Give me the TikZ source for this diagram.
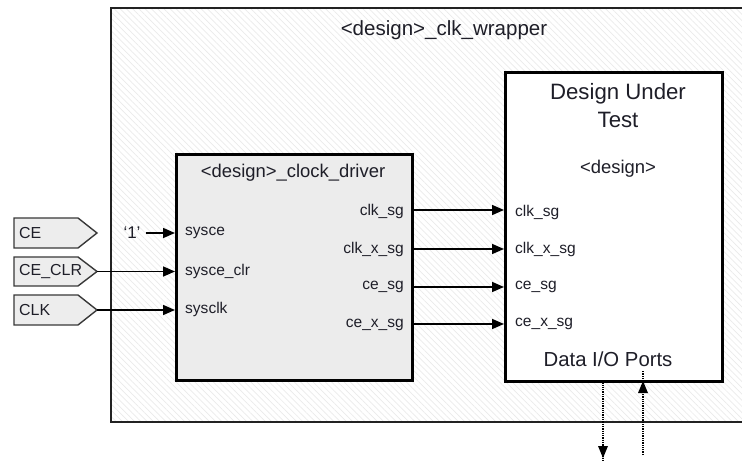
\documentclass[tikz,border=0pt]{standalone}
\usepackage{fontspec}
\setmainfont{Liberation Sans}
\usetikzlibrary{arrows.meta,patterns.meta}
\definecolor{txt}{HTML}{1E1E28}
\definecolor{boxgray}{HTML}{ECECEC}
\definecolor{pingray}{HTML}{EDEDED}
\definecolor{edge}{HTML}{222222}
\tikzset{
  x=1bp, y=-1bp,
  wrapbox/.style={fill=white,
    postaction={pattern={Lines[angle=-45,distance=4.4bp,line width=0.7bp]}, pattern color=black!8},
    postaction={draw=edge, line width=1.6bp},
    minimum width=660bp, minimum height=414bp, inner sep=0pt, anchor=north west},
  drvbox/.style={draw=black, line width=2.6bp, fill=boxgray,
    minimum width=236bp, minimum height=226bp, inner sep=0pt, anchor=north west},
  dutbox/.style={draw=black, line width=2.6bp, fill=white,
    minimum width=217bp, minimum height=309bp, inner sep=0pt, anchor=north west},
  pinshape/.style={draw=edge!90, line width=1.4bp, fill=pingray, line join=miter},
  lbl/.style={text=txt, inner sep=0pt, font=\fontsize{15.6}{18}\selectfont},
  lbll/.style={lbl, anchor=west},
  lblr/.style={lbl, anchor=east},
  ttl/.style={text=txt, inner sep=0pt},
  sig/.style={draw=black, line width=1.6bp, -{Triangle[length=12bp,width=10bp]}},
  io/.style={draw=black, line width=1.3bp, densely dotted},
}
\begin{document}
\begin{tikzpicture}
\useasboundingbox (0,0) rectangle (742,461);

% wrapper
\node[wrapbox] (wrap) at (111,8) {};
\node[ttl, font=\fontsize{20.6}{24}\selectfont] (wrapT) at (444,30) {<design>\_clk\_wrapper};

% clock driver
\node[drvbox] (drv) at (175,153) {};
\node[ttl, font=\fontsize{18.5}{22}\selectfont] (drvT) at (293,173) {<design>\_clock\_driver};
\node[lbll] (sysce) at (185,233) {sysce};
\node[lbll] (sysceclr) at (185,271) {sysce\_clr};
\node[lbll] (sysclk) at (185,309) {sysclk};
\node[lblr] (oclk) at (404,211) {clk\_sg};
\node[lblr] (oclkx) at (404,249) {clk\_x\_sg};
\node[lblr] (oce) at (404,287) {ce\_sg};
\node[lblr] (ocex) at (404,325) {ce\_x\_sg};

% DUT
\node[dutbox] (dut) at (504,71) {};
\node[ttl, font=\fontsize{22.3}{26}\selectfont] (dutT1) at (618,94) {Design Under};
\node[ttl, font=\fontsize{22.3}{26}\selectfont] (dutT2) at (618,120) {Test};
\node[ttl, font=\fontsize{18.5}{22}\selectfont] (dutD) at (618,169) {<design>};
\node[lbll] (iclk) at (515,212) {clk\_sg};
\node[lbll] (iclkx) at (515,249) {clk\_x\_sg};
\node[lbll] (ice) at (515,287) {ce\_sg};
\node[lbll] (icex) at (515,324) {ce\_x\_sg};
\node[ttl, font=\fontsize{20.4}{24}\selectfont] (dio) at (608,359) {Data I/O Ports};

% input pins
\draw[pinshape] (14,218) -- (78,218) -- (97,233) -- (78,248) -- (14,248) -- cycle;
\coordinate (ceTip) at (97,233);
\node[lbll, font=\fontsize{16}{19}\selectfont] (ceL) at (19,233) {CE};
\draw[pinshape] (14,257) -- (78,257) -- (97,271.5) -- (78,286) -- (14,286) -- cycle;
\coordinate (ceclrTip) at (97,271.5);
\node[lbll, font=\fontsize{16}{19}\selectfont] (ceclrL) at (19,271.5) {CE\_CLR};
\draw[pinshape] (14,295) -- (78,295) -- (97,310) -- (78,325) -- (14,325) -- cycle;
\coordinate (clkTip) at (97,310);
\node[lbll, font=\fontsize{16}{19}\selectfont] (clkL) at (19,310) {CLK};

% constant '1'
\node[ttl, font=\fontsize{17}{20}\selectfont] (one) at (132,233) {‘1’};

% driver inputs
\coordinate (dIn1) at (175,233);
\coordinate (dIn2) at (175,271.5);
\coordinate (dIn3) at (175,310);
\draw[sig] (one.east) ++(5,0) coordinate (oneS) -- (dIn1);
\draw[sig] (ceclrTip) -- (dIn2);
\draw[sig] (clkTip) -- (dIn3);

% driver -> DUT
\coordinate (dOut1) at (411,210);
\coordinate (dOut2) at (411,249);
\coordinate (dOut3) at (411,287);
\coordinate (dOut4) at (411,324);
\coordinate (uIn1) at (504,210);
\coordinate (uIn2) at (504,249);
\coordinate (uIn3) at (504,287);
\coordinate (uIn4) at (504,324);
\draw[sig] (dOut1) -- (uIn1);
\draw[sig] (dOut2) -- (uIn2);
\draw[sig] (dOut3) -- (uIn3);
\draw[sig] (dOut4) -- (uIn4);

% data I/O
\coordinate (ioOutTop) at (603,380);
\coordinate (ioOutEnd) at (603,458);
\coordinate (ioInEnd) at (643,381);
\coordinate (ioInStart) at (643,455);
\draw[io] (ioOutTop) -- ([yshift=-10bp]ioOutEnd);
\fill[black] (ioOutEnd) -- ++(-5,-12) -- ++(10,0) -- cycle;
\draw[io] (ioInStart) -- ([yshift=10bp]ioInEnd);
\fill[black] (ioInEnd) -- ++(-5,12) -- ++(10,0) -- cycle;
\end{tikzpicture}
\end{document}
